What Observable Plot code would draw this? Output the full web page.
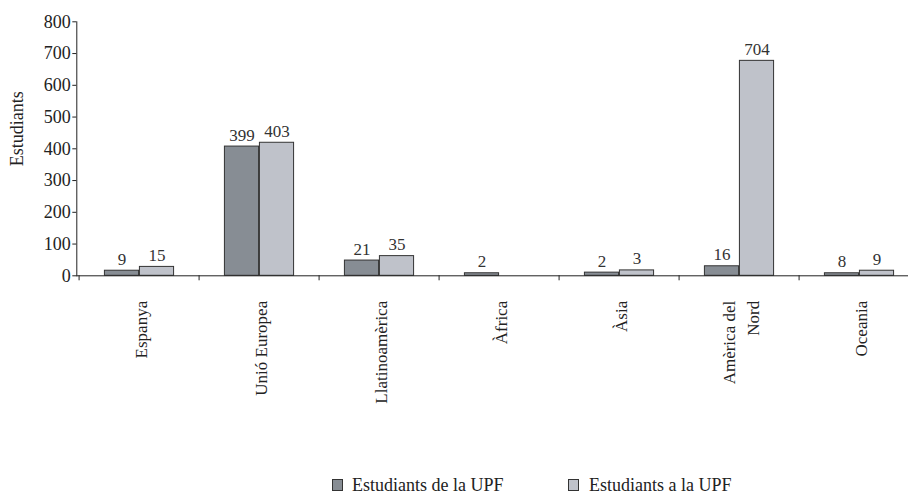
<!DOCTYPE html>
<html>
<head>
<meta charset="utf-8">
<script src="https://cdn.jsdelivr.net/npm/d3@7"></script>
<script src="https://cdn.jsdelivr.net/npm/@observablehq/plot@0.6"></script>
<style>
  body { margin: 0; background: #fff; font-family: "Liberation Serif", "Times New Roman", "DejaVu Serif", serif; }
  #wrap { position: relative; width: 908px; height: 494px; overflow: hidden; }
  #chart svg, #chart svg text { font-family: "Liberation Serif", "Times New Roman", "DejaVu Serif", serif !important; }
  #legend { position: relative; width: 908px; height: 24px; font-size: 18px; color: #222; }
  .sw { position: absolute; top: 9px; width: 9px; height: 10px; border: 1px solid #333; }
  .lt { position: absolute; top: 6px; line-height: 18px; white-space: nowrap; }
</style>
</head>
<body>
<div id="wrap">
  <div id="chart"></div>
  <div id="legend"></div>
</div>
<script>
// ---- data ----
const categories = ["Espanya", "Unió Europea", "Llatinoamèrica", "Àfrica", "Àsia", "Amèrica del\nNord", "Oceania"];
const seriesNames = ["Estudiants de la UPF", "Estudiants a la UPF"];
// bar heights as drawn in the picture
const barsDeLaUPF = [16, 407, 48, 8, 10, 30, 8];
const barsALaUPF = [28, 419, 62, 0, 17, 677, 16];
// value labels as printed in the picture
const labelsDeLaUPF = ["9", "399", "21", "2", "2", "16", "8"];
const labelsALaUPF = ["15", "403", "35", "", "3", "704", "9"];
const yTicks = [0, 100, 200, 300, 400, 500, 600, 700, 800];
const yTitle = "Estudiants";
const seriesColors = ["#878d94", "#bfc2ca"];

// ---- tables ----
const rowsDe = categories.map((c, i) => ({cat: c, value: barsDeLaUPF[i], label: labelsDeLaUPF[i]}));
const rowsA = categories.map((c, i) => ({cat: c, value: barsALaUPF[i], label: labelsALaUPF[i]}));

const W = 908, H = 470;
const mLeft = 76.3, step = 120.83, mTop = 21.3, base = 275.3;
const half = step / 2, barW = 35;

const chart = Plot.plot({
  width: W,
  height: H,
  marginLeft: mLeft,
  marginRight: 0,
  marginTop: mTop,
  marginBottom: H - base,
  style: {fontSize: "16px", color: "#222", background: "white"},
  x: {type: "band", domain: categories, range: [mLeft, mLeft + categories.length * step], padding: 0},
  y: {domain: [0, 800], range: [base, mTop]},
  marks: [
    Plot.barY(rowsDe.filter(d => d.value > 0), {x: "cat", y: "value", fill: seriesColors[0], stroke: "#333", strokeWidth: 1, insetLeft: half - barW, insetRight: half}),
    Plot.barY(rowsA.filter(d => d.value > 0), {x: "cat", y: "value", fill: seriesColors[1], stroke: "#333", strokeWidth: 1, insetLeft: half, insetRight: half - barW}),
    Plot.text(rowsDe.filter(d => d.label !== ""), {x: "cat", y: "value", text: "label", dx: -barW / 2, dy: -6, lineAnchor: "bottom", fill: "#333", fontSize: 17}),
    Plot.text(rowsA.filter(d => d.label !== ""), {x: "cat", y: "value", text: "label", dx: barW / 2, dy: -6, lineAnchor: "bottom", fill: "#333", fontSize: 17}),
    Plot.ruleY([0], {stroke: "#222"}),
    Plot.frame({anchor: "left", stroke: "#222"}),
    Plot.axisY({ticks: yTicks, tickSize: 4, tickPadding: 2, label: null, fontSize: 18}),
    Plot.axisX({tickSize: 0, tickPadding: 25, tickRotate: -90, label: null, fontSize: 17, lineHeight: 1.4}),
    Plot.axisX({tickSize: 5, tickFormat: () => "", dx: -half, label: null}),
    Plot.text([yTitle], {frameAnchor: "left", textAnchor: "middle", rotate: -90, dx: -60, dy: -20, fontSize: 18, fill: "#222"})
  ]
});
document.getElementById("chart").appendChild(chart);

// ---- legend ----
const legend = document.getElementById("legend");
const legendPos = [[332, 352], [568, 589]];
seriesNames.forEach((name, i) => {
  const sw = document.createElement("div");
  sw.className = "sw";
  sw.style.left = legendPos[i][0] + "px";
  sw.style.background = seriesColors[i];
  legend.appendChild(sw);
  const t = document.createElement("div");
  t.className = "lt";
  t.style.left = legendPos[i][1] + "px";
  t.textContent = name;
  legend.appendChild(t);
});
</script>
</body>
</html>
